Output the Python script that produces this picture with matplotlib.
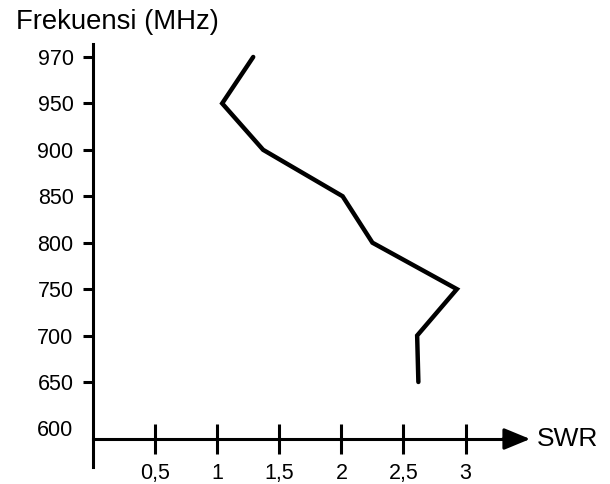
import matplotlib
matplotlib.use("Agg")
import matplotlib.pyplot as plt

# Data
freq_labels = ["600", "650", "700", "750", "800", "850", "900", "950", "970"]
line_freqs = ["970", "950", "900", "850", "800", "750", "700", "650"]
swr_values = [1.29, 1.04, 1.37, 2.01, 2.25, 2.93, 2.61, 2.62]
x_ticks = [0.5, 1.0, 1.5, 2.0, 2.5, 3.0]
x_tick_labels = ["0,5", "1", "1,5", "2", "2,5", "3"]

plt.rcParams['font.family'] = ['Liberation Sans', 'DejaVu Sans']

fig = plt.figure(figsize=(6.10, 4.84), dpi=100)
ax = fig.add_axes([0, 0, 1, 1])
ax.set_facecolor('none')

y_pos = {lab: i for i, lab in enumerate(freq_labels)}
ys = [y_pos[f] for f in line_freqs]
ax.plot(swr_values, ys, color='black', lw=3.2, solid_capstyle='round',
        solid_joinstyle='miter', zorder=3)

ax.set_xlim(-0.749, 4.163)
ax.set_ylim(-1.197, 9.227)
x_axis_y = -0.228

for s in ['top', 'right']:
    ax.spines[s].set_visible(False)
ax.spines['left'].set_position(('data', 0))
ax.spines['bottom'].set_position(('data', x_axis_y))
ax.spines['left'].set_bounds(-0.83, 8.28)
ax.spines['bottom'].set_bounds(0, 3.4)
ax.spines['left'].set_linewidth(2.2)
ax.spines['bottom'].set_linewidth(2.2)

ax.annotate('', xy=(3.52, x_axis_y), xytext=(3.3, x_axis_y),
            arrowprops=dict(arrowstyle='-|>,head_length=0.8,head_width=0.33',
                            mutation_scale=20, lw=2.2, color='black',
                            shrinkA=0, shrinkB=0))

ax.set_xticks(x_ticks)
ax.set_xticklabels(x_tick_labels)
ax.set_yticks(range(len(freq_labels)))
ax.set_yticklabels(freq_labels)
ax.tick_params(axis='x', direction='inout', length=21, width=2.2,
               labelsize=15.5, pad=7)
ax.tick_params(axis='y', direction='out', length=7, width=2.2,
               labelsize=15.5, pad=7)
ax.yaxis.get_major_ticks()[0].tick1line.set_visible(False)

ax.text(3.575, x_axis_y, "SWR", fontsize=19, va='center', ha='left')
fig.text(16 / 610, 1 - 22 / 484, "Frekuensi (MHz)", fontsize=19.8,
         va='center', ha='left')

fig.savefig("out.png", dpi=100)
